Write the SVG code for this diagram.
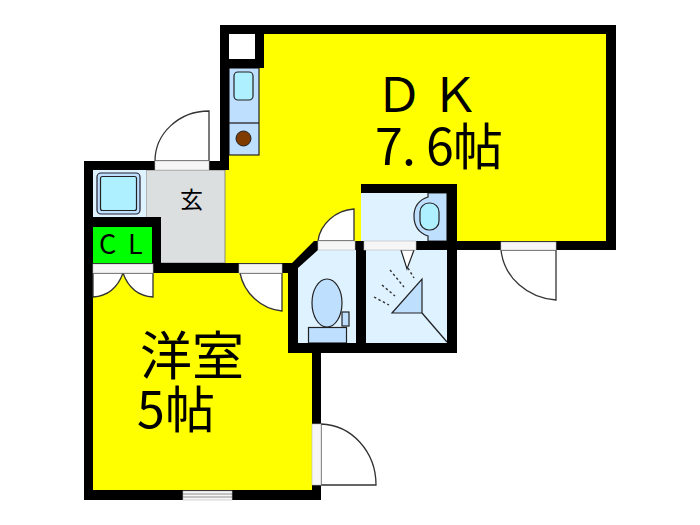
<svg xmlns="http://www.w3.org/2000/svg" width="700" height="525" viewBox="0 0 700 525">
<style>
.wall{fill:#000}
.door{fill:#fff;stroke:#333;stroke-width:1.3}
.strip{fill:#f6f6f6;stroke:#bbb;stroke-width:.6}
.line{fill:none;stroke:#222;stroke-width:1.3}
.wet{fill:#def2ff}
.mid{fill:#bfdfff;stroke:#222;stroke-width:1.2}
.aqua{fill:#aef0ff;stroke:#222;stroke-width:1.2}
text{font-family:"Noto Sans CJK JP","Noto Sans",sans-serif;fill:#000}
.b{font-size:50px}
</style>
<rect width="700" height="525" fill="#fff"/>
<g id="floors">
<path d="M225 30H611V245H318L293 268V275H225Z" fill="#ff0"/>
<path d="M88 268H316V495H88Z" fill="#ff0"/>
<rect x="146" y="170" width="79" height="93" fill="#dcdfe0" stroke="#777" stroke-width=".8"/>
<rect x="93" y="170" width="53" height="47" class="wet"/>
<rect x="93" y="227" width="59" height="36" fill="#0f0"/>
<rect x="229" y="34" width="26" height="25" fill="#fff"/>
<path d="M298 268L318 250H357V343H298Z" class="wet"/>
<rect x="366" y="250" width="81" height="93" class="wet"/>
<rect x="361" y="193" width="86" height="48" class="wet"/>
</g>
<g id="kitchen">
<rect x="229" y="68" width="30" height="87" class="mid"/>
<path d="M229 123H259" class="line"/>
<rect x="234" y="72" width="19" height="28" rx="4" class="aqua"/>
<circle cx="243.500" cy="138.500" r="7.500" fill="#803c00" stroke="#222"/>
</g>
<g id="bath">
<rect x="97" y="173" width="43" height="41" rx="4" fill="#bfdfff" stroke="#223" stroke-width="1.2"/>
<rect x="100.500" y="176.500" width="36" height="34" rx="2" class="aqua"/>
</g>
<g id="washroom">
<path d="M428 193H447V241H428V236C419 233 414 226 414 216C414 207 419 200 428 197Z" class="mid"/>
<rect x="420" y="203" width="19" height="27" rx="9" class="aqua"/>
</g>
<g id="toilet">
<ellipse cx="327" cy="303" rx="15" ry="24" class="mid"/>
<rect x="342" y="312" width="7" height="14" class="mid"/>
<rect x="308.500" y="327.500" width="38" height="15.500" class="mid"/>
</g>
<g id="shower">
<path d="M401 250H414L407 269Z" fill="#fff" stroke="#222" stroke-width="1.2"/>
<path d="M392 313L422 279V313Z" class="mid"/>
<path d="M422 313L447 342" class="line"/>
<path d="M408 268L414 278M390 270L404 287M382 285L395 296M374 297L389 305" fill="none" stroke="#333" stroke-width="1.4" stroke-dasharray="2.500 2.500"/>
</g>
<g id="walls" class="wall">
<rect x="220" y="25" width="396" height="9"/>
<rect x="606" y="25" width="10" height="225"/>
<rect x="220" y="25" width="9" height="145"/>
<rect x="255" y="25" width="9" height="43"/>
<rect x="229" y="59" width="35" height="9"/>
<rect x="84" y="161" width="145" height="9"/>
<rect x="84" y="161" width="9" height="339"/>
<rect x="93" y="217" width="68" height="10"/>
<rect x="152" y="217" width="9" height="56"/>
<rect x="93" y="263" width="197" height="10"/>
<path d="M282 263H292L314 241H330V250H318L298 268V273H282Z"/>
<rect x="288" y="263" width="10" height="90"/>
<rect x="288" y="343" width="169" height="10"/>
<rect x="356" y="241" width="10" height="102"/>
<rect x="314" y="241" width="302" height="9"/>
<rect x="361" y="184" width="96" height="9"/>
<rect x="447" y="184" width="10" height="169"/>
<rect x="312" y="343" width="9" height="157"/>
<rect x="84" y="490" width="237" height="10"/>
</g>
<g id="doors">
<path class="door" d="M155 161A54 50 0 0 1 209 111V161Z"/><rect class="strip" x="155" y="161" width="54" height="9"/>
<path class="door" d="M93 273V297C108 296 118 287 123 273C128 287 138 296 153 297V273Z"/><rect class="strip" x="93" y="264" width="60" height="9"/>
<path class="door" d="M240 273C244 293 261 309 282 311V273Z"/><rect class="strip" x="239" y="264" width="43" height="9"/>
<path class="door" d="M318 241C320 224 336 210 354 209V241Z"/><rect class="strip" x="318" y="241" width="37" height="9"/>
<rect class="strip" x="364" y="241" width="52" height="9"/>
<path class="door" d="M501 250C504 278 528 298 556 300V250Z"/><rect class="strip" x="501" y="242" width="55" height="8"/>
<path class="door" d="M321 424C352 425 376 452 376 485H321Z"/><rect class="strip" x="312" y="424" width="9" height="61"/>
<rect class="strip" x="183" y="491" width="49" height="9"/><path d="M183 494H232M183 497H232" fill="none" stroke="#777" stroke-width=".8"/>
</g>
<g id="labels">
<text x="375 431" y="112" font-size="48">ＤＫ</text>
<text x="375" y="165" class="b" textLength="128">7. 6帖</text>
<text x="140" y="375" font-size="52">洋室</text>
<text x="137" y="428" class="b" textLength="78">5帖</text>
<text x="180" y="208" font-size="23">玄</text>
<text x="99 128" y="254" font-size="27">CL</text>
</g>
</svg>
